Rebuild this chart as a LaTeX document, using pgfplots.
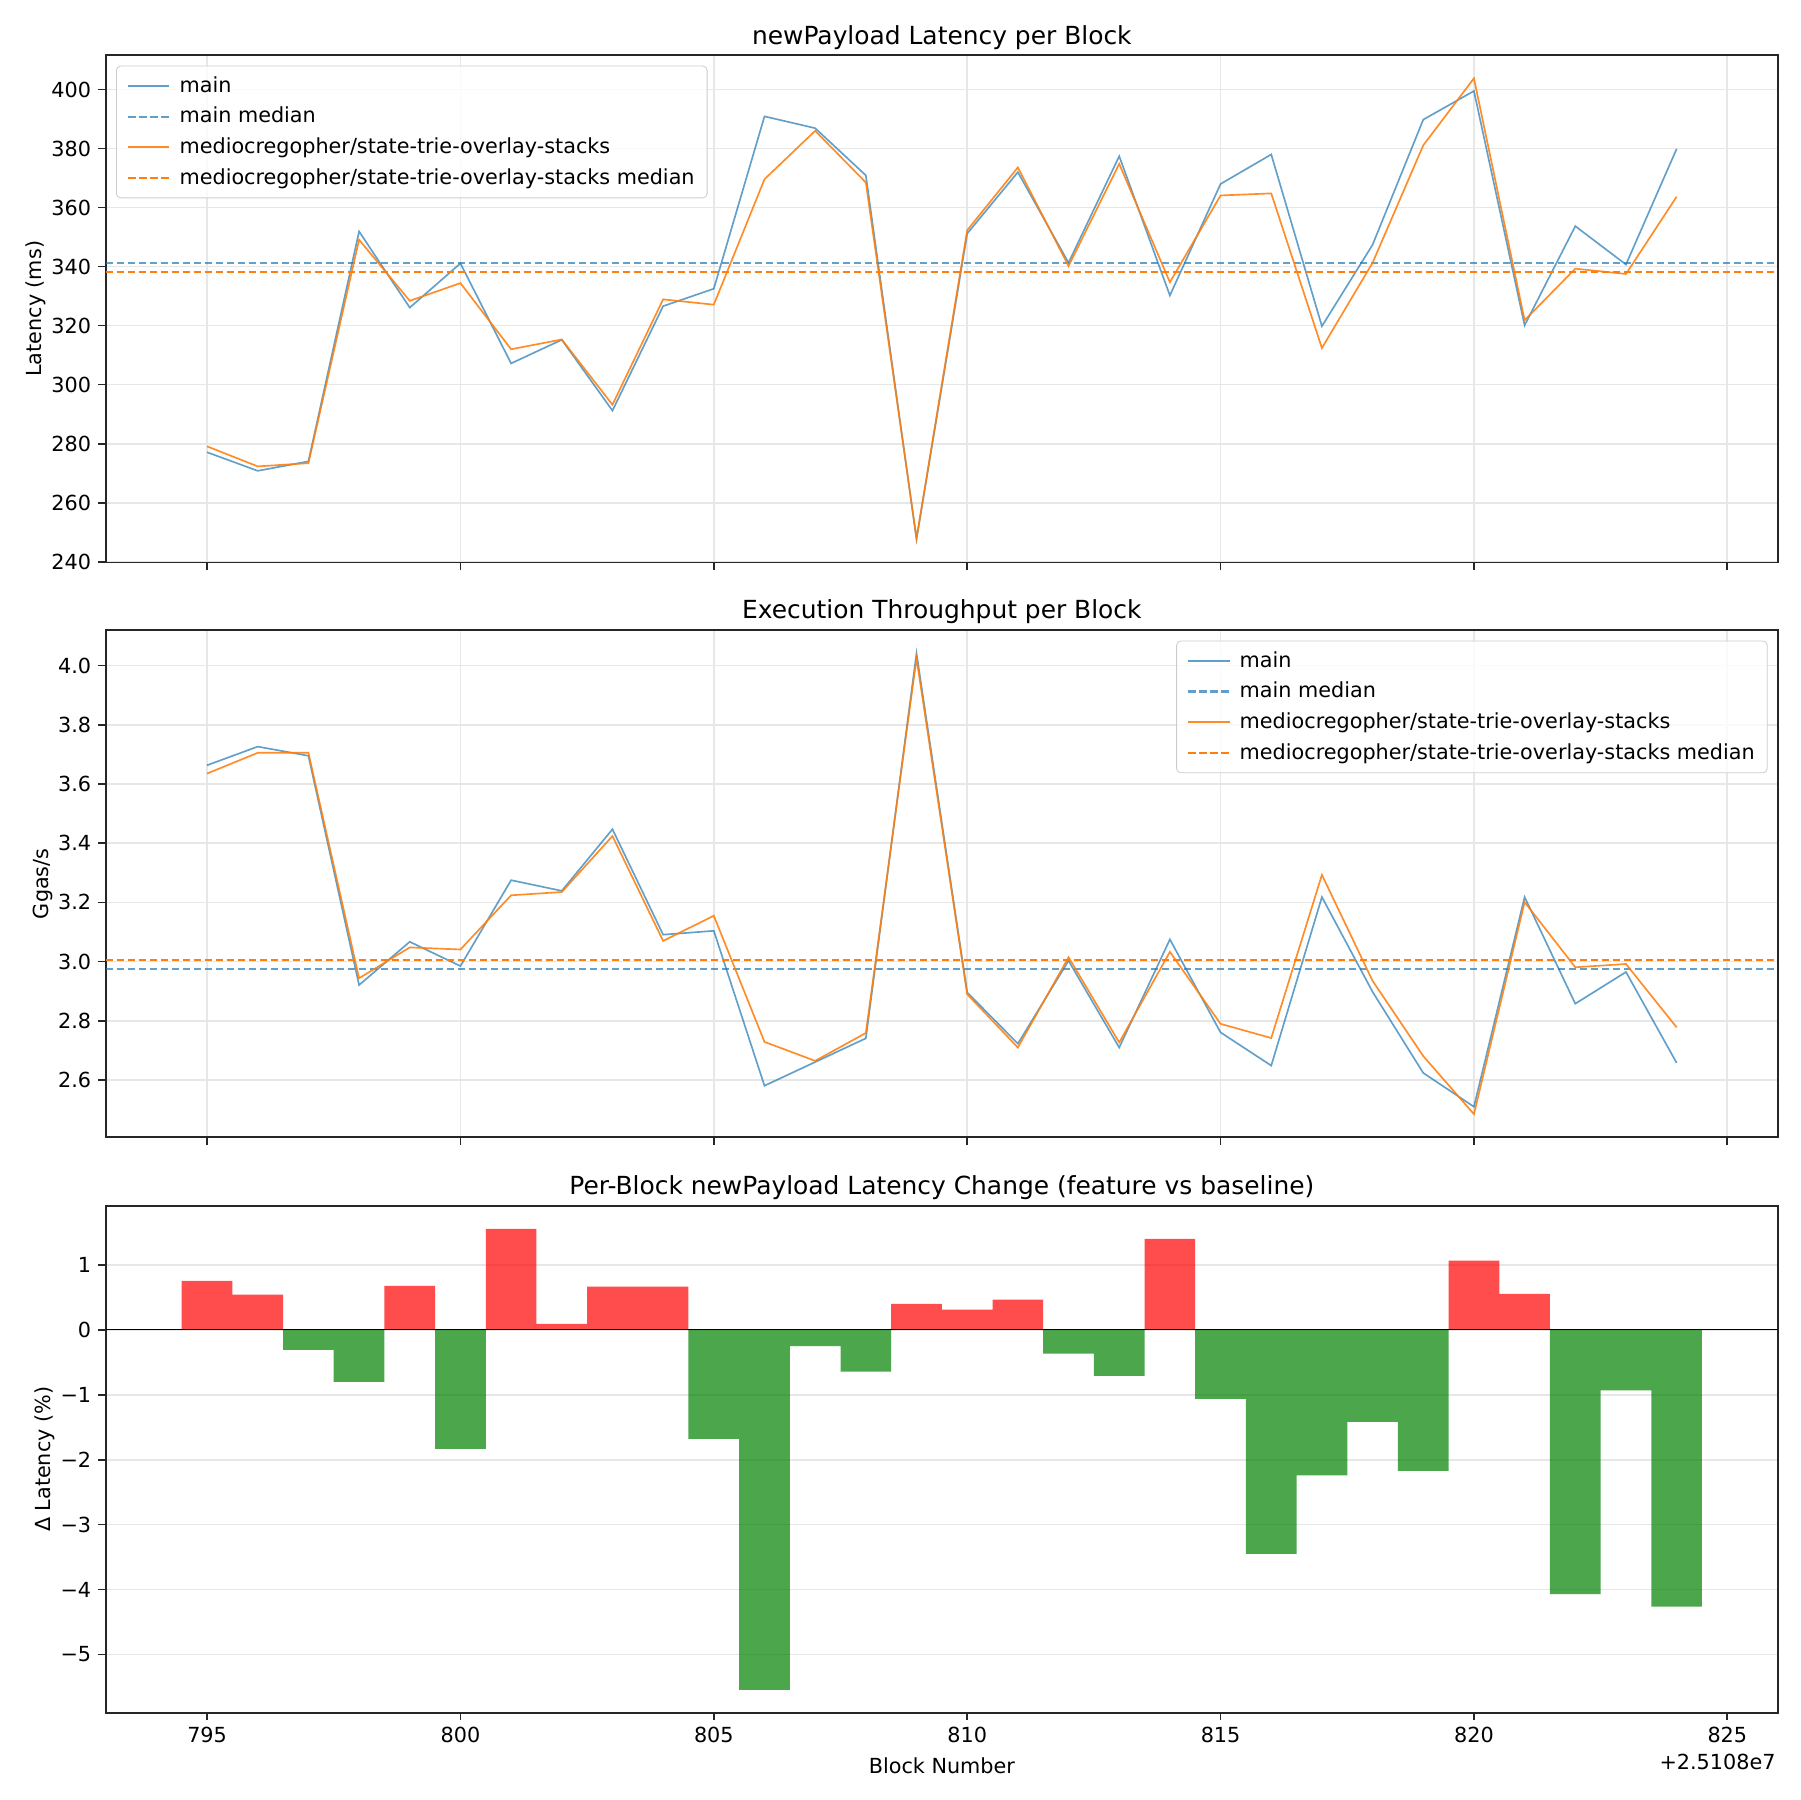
\documentclass[border=0pt]{standalone}
\usepackage{fontspec}
\setmainfont{DejaVu Sans}
\usepackage{pgfplots}
\pgfplotsset{compat=1.18}
\definecolor{cblue}{RGB}{31,119,180}
\definecolor{corange}{RGB}{255,127,14}
\definecolor{gridc}{RGB}{231,231,231}
\definecolor{legc}{RGB}{204,204,204}
\definecolor{spine}{RGB}{38,38,38}
\newcommand{\ften}{\fontsize{10}{12}\selectfont}
\newcommand{\ftwelve}{\fontsize{12}{14.4}\selectfont}
\pgfplotsset{
  every axis title/.style={at={(0.5,1)}, anchor=base, yshift=5.4pt, font=\ftwelve},
  base/.style={
    scale only axis, width=805.7pt, height=244.3pt,
    xmin=793, xmax=826,
    axis line style={spine, line width=0.8pt},
    tick align=outside, tick pos=left,
    major tick length=3.5pt,
    every tick/.style={spine, line width=0.8pt},
    xtick={795,800,805,810,815,820,825},
    tick label style={font=\ften},
    label style={font=\ften},
    ylabel shift=-4.3pt,
    major grid style={gridc, line width=0.8pt},
    legend cell align=left,
    legend image code/.code={\draw[#1] (1.5pt,0pt) -- (21.5pt,0pt); \path[draw=none,fill=none] (0pt,0pt) (24.4pt,0pt);},
    legend style={draw=legc, rounded corners=2pt, fill=white, fill opacity=0.8, text opacity=1, draw opacity=1,
      font=\ften, row sep=1.7pt, inner xsep=4pt, inner ysep=3pt},
  },
  mainline/.style={cblue, opacity=0.7, line width=0.8pt},
  featline/.style={corange, opacity=0.9, line width=0.8pt},
  mainmed/.style={cblue, opacity=0.7, line width=1pt, dash pattern=on 3.7pt off 1.6pt},
  featmed/.style={corange, line width=1pt, dash pattern=on 3.7pt off 1.6pt},
}
\begin{document}
\begin{tikzpicture}
\useasboundingbox (0,0) rectangle (867.24pt,867.24pt);
% ---------- Top: latency
\begin{axis}[base, at={(50.93pt,596.3pt)}, anchor=south west,
  ymin=239.8, ymax=411.6,
  ytick={240,260,280,300,320,340,360,380,400},
  yticklabels={240,260,280,300,320,340,360,380,400},
  xticklabels={},
  grid=major,
  title={newPayload Latency per Block},
  ylabel={Latency (ms)},
  legend style={at={(0,1)}, anchor=north west, xshift=5pt, yshift=-5pt},
]
\addplot[mainline] coordinates {(795,277.1) (796,270.8) (797,274.0) (798,351.9) (799,326.1) (800,341.1) (801,307.2) (802,315.2) (803,291.2) (804,326.6) (805,332.5) (806,390.9) (807,386.9) (808,370.9) (809,247.6) (810,351.2) (811,372.0) (812,341.3) (813,377.4) (814,330.2) (815,368.0) (816,378.0) (817,319.8) (818,347.4) (819,389.8) (820,399.5) (821,320.1) (822,353.7) (823,340.7) (824,379.9)};
\addlegendentry{main}
\addplot[mainmed] coordinates {(793,341.1) (826,341.1)};
\addlegendentry{main median}
\addplot[featline] coordinates {(795,279.1) (796,272.3) (797,273.4) (798,349.1) (799,328.4) (800,334.4) (801,312.0) (802,315.3) (803,293.2) (804,328.9) (805,327.1) (806,369.6) (807,386.0) (808,368.5) (809,248.0) (810,352.3) (811,373.6) (812,340.2) (813,374.8) (814,334.7) (815,364.1) (816,364.8) (817,312.4) (818,341.3) (819,381.1) (820,403.8) (821,321.8) (822,339.3) (823,337.5) (824,363.7)};
\addlegendentry{mediocregopher/state-trie-overlay-stacks}
\addplot[featmed] coordinates {(793,338.3) (826,338.3)};
\addlegendentry{mediocregopher/state-trie-overlay-stacks median}
\end{axis}
% ---------- Middle: throughput
\begin{axis}[base, at={(50.93pt,319.3pt)}, anchor=south west,
  ymin=2.407, ymax=4.119,
  ytick={2.6,2.8,3.0,3.2,3.4,3.6,3.8,4.0},
  yticklabels={2.6,2.8,3.0,3.2,3.4,3.6,3.8,4.0},
  xticklabels={},
  grid=major,
  title={Execution Throughput per Block},
  ylabel={Ggas/s},
  legend style={at={(1,1)}, anchor=north east, xshift=-5pt, yshift=-5pt},
]
\addplot[mainline] coordinates {(795,3.663) (796,3.726) (797,3.695) (798,2.921) (799,3.067) (800,2.985) (801,3.275) (802,3.239) (803,3.447) (804,3.091) (805,3.104) (806,2.581) (807,2.661) (808,2.741) (809,4.041) (810,2.896) (811,2.723) (812,3.003) (813,2.710) (814,3.075) (815,2.761) (816,2.649) (817,3.218) (818,2.898) (819,2.624) (820,2.510) (821,3.218) (822,2.858) (823,2.965) (824,2.658)};
\addlegendentry{main}
\addplot[mainmed] coordinates {(793,2.976) (826,2.976)};
\addlegendentry{main median}
\addplot[featline] coordinates {(795,3.635) (796,3.705) (797,3.705) (798,2.944) (799,3.048) (800,3.041) (801,3.224) (802,3.235) (803,3.424) (804,3.070) (805,3.155) (806,2.729) (807,2.665) (808,2.759) (809,4.024) (810,2.890) (811,2.710) (812,3.015) (813,2.727) (814,3.033) (815,2.790) (816,2.742) (817,3.293) (818,2.935) (819,2.681) (820,2.485) (821,3.201) (822,2.981) (823,2.992) (824,2.778)};
\addlegendentry{mediocregopher/state-trie-overlay-stacks}
\addplot[featmed] coordinates {(793,3.006) (826,3.006)};
\addlegendentry{mediocregopher/state-trie-overlay-stacks median}
\end{axis}
% ---------- Bottom: delta
\begin{axis}[base, name=bot, at={(50.93pt,42.0pt)}, anchor=south west,
  ymin=-5.901, ymax=1.913,
  ytick={-5,-4,-3,-2,-1,0,1},
  yticklabels={−5,−4,−3,−2,−1,0,1},
  xticklabels={795,800,805,810,815,820,825},
  ymajorgrids,
  title={Per-Block newPayload Latency Change (feature vs baseline)},
  ylabel={Δ Latency (\%)},
  xlabel={Block Number},
]
\addplot[ybar, bar width=1, bar shift=0pt, fill=red, fill opacity=0.7, draw=none] coordinates {(795,0.755) (796,0.543) (799,0.678) (801,1.558) (802,0.094) (803,0.667) (804,0.667) (809,0.401) (810,0.313) (811,0.466) (814,1.404) (820,1.068) (821,0.555)};
\addplot[ybar, bar width=1, bar shift=0pt, fill={rgb,255:red,0;green,128;blue,0}, fill opacity=0.7, draw=none] coordinates {(797,-0.307) (798,-0.802) (800,-1.835) (805,-1.681) (806,-5.546) (807,-0.248) (808,-0.643) (812,-0.366) (813,-0.708) (815,-1.062) (816,-3.451) (817,-2.242) (818,-1.416) (819,-2.171) (822,-4.071) (823,-0.932) (824,-4.265)};
\addplot[black, line width=0.5pt] coordinates {(793,0) (826,0)};
\end{axis}
\node[anchor=north east, inner sep=0pt, font=\ften] at ([xshift=-1pt,yshift=-19.5pt]bot.south east) {+2.5108e7};
\end{tikzpicture}
\end{document}
